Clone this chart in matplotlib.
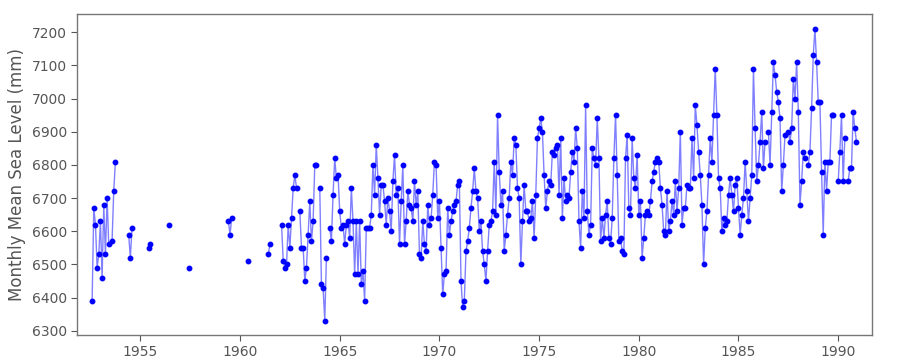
import numpy as np
import matplotlib
matplotlib.use("Agg")
import matplotlib.pyplot as plt

# Monthly mean sea level (mm). Month index k counts months from Jan 1952,
# each block lists consecutive months; None = missing month.
early_blocks = [
    (7, [6390, 6670, 6620, 6490, 6530, 6630, 6460, 6680, 6530, 6700, 6560,
         None, 6570, 6720, 6810]),
    (29, [6590, 6520, 6610]),
    (41, [6550, 6560]),
    (53, [6620]),
    (65, [6490]),
    (89, [6630, 6590, 6640]),
    (101, [6510]),
    (113, [6530, 6560]),
]

dense_start = 121
dense_levels = [
    6620, 6510, 6490, 6500, 6620, 6550, 6640, 6730, 6770, 6730,
    None, 6660, 6550, 6550, 6450, 6490, 6590, 6690, 6570, 6630,
    6800, 6800, None, 6730, 6440, 6430, 6330, 6520, None, 6610,
    6570, 6710, 6820, 6760, 6770, 6660, 6610, 6620, 6560, 6620,
    6630, 6580, 6730, 6630, 6470, 6630, 6470, 6630, 6440, 6480,
    6390, 6610, 6610, 6610, 6650, 6800, 6710, 6860, 6760, 6650,
    6740, 6740, 6690, 6620, 6700, 6660, 6600, 6750, 6830, 6710,
    6730, 6560, 6690, 6800, 6560, 6630, 6720, 6680, 6670, 6630,
    6750, 6680, 6720, 6530, 6520, 6630, 6560, 6540, 6680, 6620,
    6640, 6710, 6810, 6800, 6640, 6690, 6550, 6410, 6470, 6480,
    6670, 6590, 6630, 6660, 6680, 6690, 6740, 6750, 6450, 6370,
    6390, 6540, 6570, 6610, 6670, 6720, 6790, 6720, 6700, 6600,
    6630, 6540, 6500, 6450, 6540, 6620, 6630, 6660, 6810, 6650,
    6950, 6780, 6680, 6720, 6540, 6590, 6650, 6700, 6810, 6770,
    6880, 6860, 6730, 6700, 6500, 6630, 6740, 6660, 6660, 6630,
    6640, 6690, 6580, 6710, 6880, 6910, 6940, 6900, 6770, 6670,
    6720, 6750, 6740, 6840, 6830, 6850, 6860, 6710, 6880, 6640,
    6760, 6690, 6710, 6700, 6780, 6840, 6810, 6910, 6850, 6630,
    6550, 6720, 6640, 6980, 6660, 6590, 6620, 6850, 6820, 6800,
    6940, 6820, 6570, 6640, 6580, 6650, 6690, 6580, 6560, 6640,
    6820, 6950, 6770, 6570, 6580, 6540, 6530, 6820, 6890, 6670,
    6650, 6880, 6760, 6730, 6830, 6650, 6690, 6520, 6580, 6650,
    6660, 6650, 6690, 6750, 6780, 6810, 6820, 6810, 6730, 6680,
    6600, 6590, 6720, 6600, 6630, 6690, 6650, 6750, 6660, 6730,
    6900, 6620, 6670, 6670, 6740, 6730, 6730, 6880, 6760, 6980,
    6920, 6840, 6770, 6680, 6500, 6610, 6660, 6770, 6880, 6810,
    6950, 7090, 6950, 6760, 6730, 6600, 6640, 6620, 6630, 6710,
    6760, 6710, 6660, 6740, 6760, 6670, 6590, 6650, 6700, 6810,
    6720, 6630, 6700, 6770, 7090, 6910, 6750, 6800, 6870, 6960,
    6790, 6870, None, 6900, 6800, 6960, 7110, 7070, 7020, 6990,
    6940, 6720, 6800, 6890, None, 6900, 6870, 6910, 7060, 7000,
    7110, 6960, 6680, 6750, 6840, 6820, None, 6800, 6840, 6970,
    7130, 7210, 7110, 6990, 6990, 6780, 6590, 6810, 6720, 6810,
    6810, 6950, 6950, None, None, 6750, 6840, 6950, 6750, 6880,
    None, 6750, 6790, 6790, 6960, 6910, 6870,
]

blocks = early_blocks + [(dense_start, dense_levels)]

# Build one series with NaN between blocks so the line breaks at gaps
times, levels = [], []
for start, vals in blocks:
    for i, v in enumerate(vals):
        times.append(1952 + (start + i) / 12)
        levels.append(np.nan if v is None else v)
    times.append(1952 + (start + len(vals)) / 12)
    levels.append(np.nan)
times = np.array(times)
levels = np.array(levels, dtype=float)

fig = plt.figure(figsize=(9, 3.6), dpi=100)
ax = fig.add_axes([0.0859, 0.0694, 0.8833, 0.8909])

ax.plot(times, levels, color="blue", lw=1, alpha=0.5)
ax.plot(times, levels, ls="none", marker="o", ms=3.2, color="blue")

ax.set_xlim(1951.84, 1991.71)
ax.set_ylim(6287, 7254)
ax.set_xticks(np.arange(1955, 1991, 5))
ax.set_yticks(np.arange(6300, 7201, 100))

gray = "#555555"
ax.set_ylabel("Monthly Mean Sea Level (mm)", fontsize=12, color=gray)
ax.tick_params(axis="both", labelsize=10, colors=gray, length=4, direction="out")
for s in ax.spines.values():
    s.set_color("#777777")
    s.set_linewidth(1)

fig.savefig("out.png", dpi=100)
